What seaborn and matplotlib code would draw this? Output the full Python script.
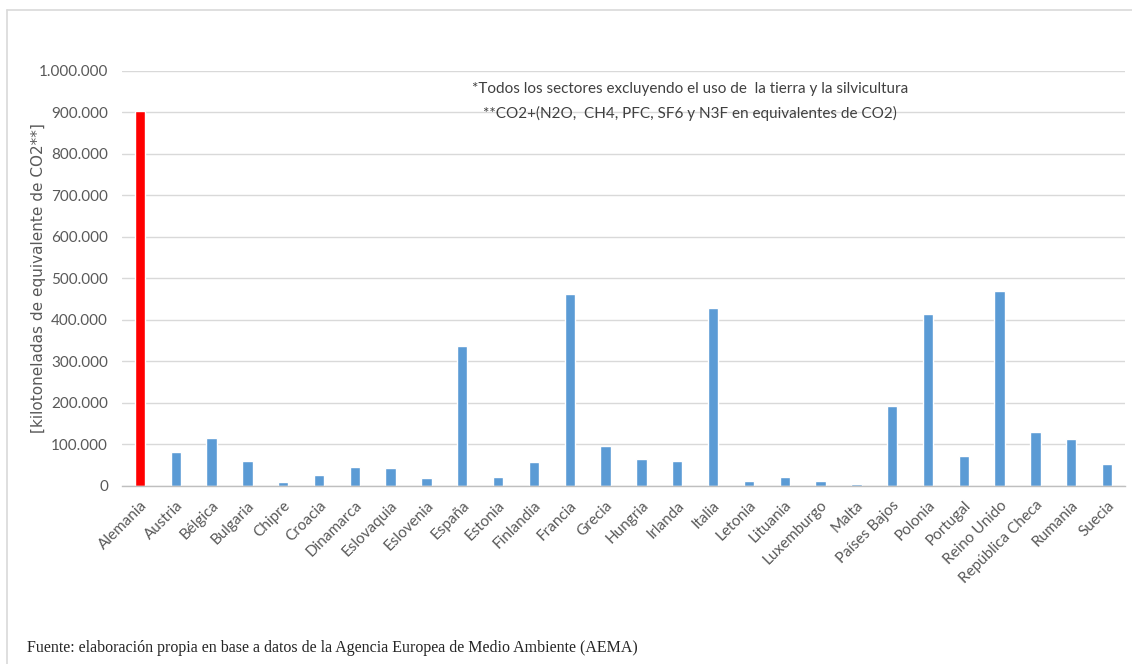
import matplotlib
matplotlib.use("Agg")
import matplotlib.pyplot as plt
import seaborn as sns
import pandas as pd
import numpy as np
from matplotlib.lines import Line2D
from matplotlib.ticker import FuncFormatter, FixedLocator

countries = ["Alemania", "Austria", "Bélgica", "Bulgaria", "Chipre", "Croacia",
             "Dinamarca", "Eslovaquia", "Eslovenia", "España", "Estonia", "Finlandia",
             "Francia", "Grecia", "Hungría", "Irlanda", "Italia", "Letonia", "Lituania",
             "Luxemburgo", "Malta", "Países Bajos", "Polonia", "Portugal", "Reino Unido",
             "República Checa", "Rumanía", "Suecia"]
tick_labels = ["Alemania", "Austria", "Bélgica", "Bulgaria", "Chipre", "Croacia",
               "Dinamarca", "Eslovaquia", "Eslovenia", "España", "Estonia", "Finlandia",
               "Francia", "Grecia", "Hungria", "Irlanda", "Italia", "Letonia", "Lituania",
               "Luxemburgo", "Malta", "Países Bajos", "Polonia", "Portugal", "Reino Unido",
               "República Checa", "Rumania", "Suecia"]
emissions = [904000, 80500, 115500, 59500, 8000, 25800,
             45800, 42700, 18500, 337600, 21700, 56400,
             463000, 95000, 63700, 59600, 427800, 11300, 21700,
             11300, 4800, 191500, 414000, 70900, 469500,
             128800, 111900, 53000]
y_ticks = [0, 100000, 200000, 300000, 400000, 500000, 600000, 700000, 800000, 900000, 1000000]
note_lines = ["*Todos los sectores excluyendo el uso de  la tierra y la silvicultura",
              "**CO2+(N2O,  CH4, PFC, SF6 y N3F en equivalentes de CO2)"]
y_label = "[kilotoneladas de equivalente de CO2**]"
source = "Fuente: elaboración propia en base a datos de la Agencia Europea de Medio Ambiente (AEMA)"

sns.set_style("white")
plt.rcParams['font.family'] = ['Lato', 'DejaVu Sans']

df = pd.DataFrame({"pais": countries, "valor": emissions})
palette = {c: ("#ff0000" if c == "Alemania" else "#5b9bd5") for c in countries}

fig = plt.figure(figsize=(11.32, 6.64), dpi=100)
fig.patch.set_facecolor("white")
# outer chart frame (left and top edges)
fig.add_artist(Line2D([7/1132, 7/1132], [0, 1-10/664], transform=fig.transFigure,
                      color="#d9d9d9", lw=1.2))
fig.add_artist(Line2D([7/1132, 1], [1-10/664, 1-10/664], transform=fig.transFigure,
                      color="#d9d9d9", lw=1.2))

ax = fig.add_axes([122/1132, 1-485.7/664, (1125-122)/1132, (485.7-71)/664])
sns.barplot(data=df, x="pais", y="valor", hue="pais", palette=palette,
            width=0.29, legend=False, ax=ax, saturation=1)

ax.set_ylim(0, 1000000)
ax.set_xlim(-0.5, len(countries)-0.5)
ax.yaxis.set_major_locator(FixedLocator(y_ticks))
ax.yaxis.set_major_formatter(FuncFormatter(lambda v, p: f"{int(v):,}".replace(",", ".")))
ax.grid(axis="y", color="#d9d9d9", lw=1)
ax.set_axisbelow(True)
for s in ["top", "right", "left"]:
    ax.spines[s].set_visible(False)
ax.spines["bottom"].set_color("#bfbfbf")
ax.spines["bottom"].set_linewidth(1)

ax.tick_params(axis="y", length=0, labelsize=11, labelcolor="#595959", pad=10)
ax.set_xticks(range(len(countries)))
ax.set_xticklabels(tick_labels, rotation=45, ha="right", rotation_mode="anchor",
                   fontsize=11, color="#595959")
ax.tick_params(axis="x", which="major", length=0, pad=9)
ax.set_xticks(np.arange(-0.5, len(countries), 1.0), minor=True)
ax.tick_params(axis="x", which="minor", length=5, color="#bfbfbf", width=1)

ax.set_xlabel("")
ax.set_ylabel(y_label, fontsize=11, color="#595959", family=["DejaVu Sans"])
ax.yaxis.set_label_coords(-0.076, 0.5)

fig.text(690/1132, 1-89/664, note_lines[0], ha="center", va="center",
         fontsize=11, color="#404040")
fig.text(690/1132, 1-113/664, note_lines[1], ha="center", va="center",
         fontsize=11, color="#404040")

fig.text(27/1132, 1-648/664, source, ha="left", va="center",
         fontsize=11.5, color="#262626", family=["Liberation Serif"])

fig.savefig("out.png", dpi=100, facecolor="white")
